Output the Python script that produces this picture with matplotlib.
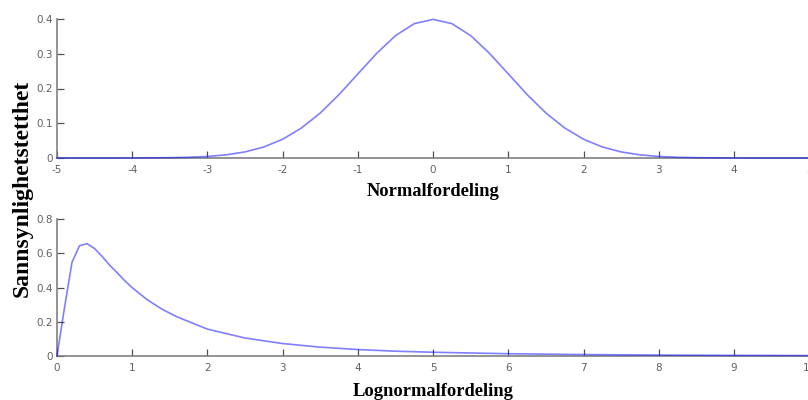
import matplotlib
matplotlib.use("Agg")
import matplotlib.pyplot as plt

# Normal distribution
normal_x = [-5, -4.75, -4.5, -4.25, -4, -3.75, -3.5, -3.25, -3, -2.75, -2.5, -2.25,
            -2, -1.75, -1.5, -1.25, -1, -0.75, -0.5, -0.25, 0,
            0.25, 0.5, 0.75, 1, 1.25, 1.5, 1.75, 2, 2.25, 2.5, 2.75, 3,
            3.25, 3.5, 3.75, 4, 4.25, 4.5, 4.75, 5]
normal_y = [0.0, 0.0, 0.0, 0.0, 0.0001, 0.0004, 0.0009, 0.002, 0.0044, 0.0091, 0.0175, 0.0317,
            0.054, 0.0863, 0.1295, 0.1826, 0.242, 0.3011, 0.3521, 0.3867, 0.3989,
            0.3867, 0.3521, 0.3011, 0.242, 0.1826, 0.1295, 0.0863, 0.054, 0.0317, 0.0175, 0.0091, 0.0044,
            0.002, 0.0009, 0.0004, 0.0001, 0.0, 0.0, 0.0, 0.0]

# Lognormal distribution
lognormal_x = [0, 0.1, 0.2, 0.3, 0.4, 0.5, 0.6, 0.7, 0.8, 0.9, 1.0, 1.2, 1.4, 1.6, 1.8,
               2.0, 2.5, 3.0, 3.5, 4.0, 4.5, 5.0, 6.0, 7.0, 8.0, 9.0, 10.0]
lognormal_y = [0.0, 0.2816, 0.5475, 0.6442, 0.6558, 0.6275, 0.5815, 0.5304, 0.4864, 0.4400, 0.3989,
               0.3286, 0.2722, 0.2279, 0.1925, 0.1569, 0.1049, 0.0727, 0.0517, 0.0377, 0.0280,
               0.0219, 0.0133, 0.0084, 0.0055, 0.0037, 0.0025]

normal_xticks = [-5, -4, -3, -2, -1, 0, 1, 2, 3, 4, 5]
normal_yticks = [0, 0.1, 0.2, 0.3, 0.4]
normal_yticklabels = ["0", "0.1", "0.2", "0.3", "0.4"]
lognormal_xticks = list(range(0, 11))
lognormal_yticks = [0, 0.2, 0.4, 0.6, 0.8]
lognormal_yticklabels = ["0", "0.2", "0.4", "0.6", "0.8"]

fig = plt.figure(figsize=(8.08, 4.0), dpi=100)
ax1 = fig.add_axes([0.0705, 0.605, 0.931, 0.3475])
ax2 = fig.add_axes([0.0705, 0.11, 0.931, 0.3425])

tick_color = "#606060"
serif = ["Liberation Serif", "DejaVu Serif"]

def style(ax, xticks, yticks, yticklabels, xlim, ylim, xlabel, labelpad):
    ax.set_xlim(*xlim)
    ax.set_ylim(*ylim)
    ax.set_xticks(xticks)
    ax.set_xticklabels([str(t) for t in xticks])
    ax.set_yticks(yticks)
    ax.set_yticklabels(yticklabels)
    for s in ["top", "right"]:
        ax.spines[s].set_visible(False)
    for s in ["left", "bottom"]:
        ax.spines[s].set_color("#808080")
        ax.spines[s].set_linewidth(1.2)
    ax.tick_params(direction="in", length=5, width=0.9, color="#505050",
                   labelcolor=tick_color, labelsize=7.5)
    ax.tick_params(axis="x", pad=5)
    ax.tick_params(axis="y", pad=3)
    ax.set_xlabel(xlabel, fontsize=13.3, fontweight="bold", family=serif, labelpad=labelpad)

ax1.plot(normal_x, normal_y, color="blue", alpha=0.5, lw=1.2, zorder=3, clip_on=False)
style(ax1, normal_xticks, normal_yticks, normal_yticklabels, (-5, 5), (0, 0.4), "Normalfordeling", 6)

ax2.plot(lognormal_x, lognormal_y, color="blue", alpha=0.5, lw=1.2, zorder=3, clip_on=False)
style(ax2, lognormal_xticks, lognormal_yticks, lognormal_yticklabels, (0, 10), (0, 0.8), "Lognormalfordeling", 7)

fig.text(0.027, 0.53, "Sannsynlighetstetthet", rotation=90, ha="center", va="center",
         fontsize=17, fontweight="bold", family=serif)

fig.savefig("out.png", dpi=100)
